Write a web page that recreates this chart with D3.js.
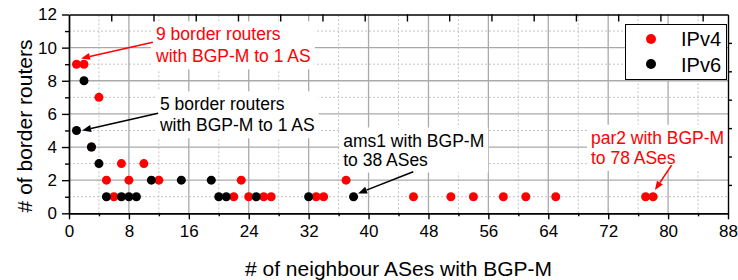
<!DOCTYPE html>
<html>
<head>
<meta charset="utf-8">
<title>BGP-M border routers</title>
<script src="https://cdn.jsdelivr.net/npm/d3@7"></script>
<style>
  body { margin: 0; background: #fff; }
  svg text { font-family: "Liberation Sans", Arial, sans-serif; }
</style>
</head>
<body>
<svg id="chart" width="738" height="280"></svg>
<script>
// values
var ipv4X = [1, 2, 4, 3, 5, 7, 8, 10, 12, 23, 37, 6, 22, 24, 26, 27, 33, 34, 46, 51, 54, 58, 61, 65, 77, 78];
var ipv4Y = [9, 9, 7, 4, 2, 3, 2, 3, 2, 2, 2, 1, 1, 1, 1, 1, 1, 1, 1, 1, 1, 1, 1, 1, 1, 1];
var ipv6X = [2, 1, 3, 4, 11, 15, 19, 5, 7, 8, 9, 20, 21, 25, 32, 38];
var ipv6Y = [8, 5, 4, 3, 2, 2, 2, 1, 1, 1, 1, 1, 1, 1, 1, 1];
var xTicks = [0, 8, 16, 24, 32, 40, 48, 56, 64, 72, 80, 88];
var yTicks = [0, 2, 4, 6, 8, 10, 12];
var seriesNames = ["IPv4", "IPv6"];

var annotations = [
  {lines: ["9 border routers", "with BGP-M to 1 AS"], color: "#ff0000", tx: 11.62, ty: 10.44, gap: 22,
   from: [11.2, 10.33], to: [1.6, 9.35]},
  {lines: ["5 border routers", "with BGP-M to 1 AS"], color: "#000000", tx: 12.15, ty: 6.22, gap: 21,
   from: [11.9, 6.04], to: [1.75, 5.0]},
  {lines: ["ams1 with BGP-M", "to 38 ASes"], color: "#000000", tx: 36.62, ty: 4.03, gap: 19,
   from: [45.97, 2.51], to: [38.6, 1.2]},
  {lines: ["par2 with BGP-M", "to 78 ASes"], color: "#ff0000", tx: 69.7, ty: 4.2, gap: 20,
   from: [80.47, 2.91], to: [78.24, 1.4]}
];

var svg = d3.select("#chart");
var W = 738, H = 280;
var m = {left: 69, right: 10, top: 14.5, bottom: 66.7};

var x = d3.scaleLinear().domain([0, 88]).range([m.left, W - m.right]);
var y = d3.scaleLinear().domain([0, 12]).range([H - m.bottom, m.top]);

var majorX = xTicks, minorX = d3.range(4, 88, 8);
var majorY = yTicks, minorY = d3.range(1, 12, 2);

// grid
var grid = svg.append("g");
grid.selectAll("line.mx").data(minorX).enter().append("line")
  .attr("x1", function (d) { return x(d); }).attr("x2", function (d) { return x(d); })
  .attr("y1", y(0)).attr("y2", y(12))
  .attr("stroke", "#c4c4c4").attr("stroke-dasharray", "2,2");
grid.selectAll("line.my").data(minorY).enter().append("line")
  .attr("y1", function (d) { return y(d); }).attr("y2", function (d) { return y(d); })
  .attr("x1", x(0)).attr("x2", x(88))
  .attr("stroke", "#c4c4c4").attr("stroke-dasharray", "2,2");
grid.selectAll("line.gx").data(majorX.slice(1, -1)).enter().append("line")
  .attr("x1", function (d) { return x(d); }).attr("x2", function (d) { return x(d); })
  .attr("y1", y(0)).attr("y2", y(12))
  .attr("stroke", "#aaaaaa").attr("stroke-width", 1.3);
grid.selectAll("line.gy").data(majorY.slice(1, -1)).enter().append("line")
  .attr("y1", function (d) { return y(d); }).attr("y2", function (d) { return y(d); })
  .attr("x1", x(0)).attr("x2", x(88))
  .attr("stroke", "#aaaaaa").attr("stroke-width", 1.3);

// annotation text boxes (white behind text, over grid)
var annG = svg.append("g");
annotations.forEach(function (a) {
  var g = annG.append("g");
  var t = g.append("text").attr("fill", a.color).attr("font-size", 17.5);
  a.lines.forEach(function (l, i) {
    t.append("tspan").attr("x", x(a.tx)).attr("y", y(a.ty) + i * a.gap).text(l);
  });
  var bb = t.node().getBBox();
  g.insert("rect", "text").attr("x", bb.x - 4).attr("y", bb.y - 3)
    .attr("width", bb.width + 8).attr("height", bb.height + 6).attr("fill", "#fff");
});

// axes
function styleAxis(g) {
  g.selectAll("path, line").attr("stroke", "#000").attr("stroke-width", 1.4);
  g.selectAll("text").attr("font-size", 17).attr("fill", "#000")
    .attr("font-family", "'Liberation Sans', Arial, sans-serif");
}
svg.append("g").attr("transform", "translate(0," + y(0) + ")")
  .call(d3.axisBottom(x).tickValues(minorX).tickSize(3).tickFormat("").tickSizeOuter(0))
  .call(styleAxis);
svg.append("g").attr("transform", "translate(0," + y(0) + ")")
  .call(d3.axisBottom(x).tickValues(majorX).tickSize(6).tickPadding(6).tickSizeOuter(0))
  .call(styleAxis);
svg.append("g").attr("transform", "translate(" + x(0) + ",0)")
  .call(d3.axisLeft(y).tickValues(minorY).tickSize(4).tickFormat("").tickSizeOuter(0))
  .call(styleAxis);
svg.append("g").attr("transform", "translate(" + x(0) + ",0)")
  .call(d3.axisLeft(y).tickValues(majorY).tickSize(7).tickPadding(5).tickSizeOuter(0))
  .call(styleAxis);

// top and right axes have their own odd tick spacing in the original
var xTop = d3.scaleLinear().domain([0, 15.6]).range([x(0), x(88)]);
var yRight = d3.scaleLinear().domain([0, 7]).range([y(0), y(12)]);
svg.append("g").attr("transform", "translate(0," + y(12) + ")")
  .call(d3.axisTop(xTop).tickValues(d3.range(1, 16)).tickSize(-7).tickFormat("").tickSizeOuter(0))
  .call(styleAxis);
svg.append("g").attr("transform", "translate(" + x(88) + ",0)")
  .call(d3.axisRight(yRight).tickValues(d3.range(1, 7)).tickSize(4).tickFormat("").tickSizeOuter(0))
  .call(styleAxis);

// axis titles
svg.append("text").attr("x", (x(0) + x(88)) / 2).attr("y", 276)
  .attr("text-anchor", "middle").attr("font-size", 21).text("# of neighbour ASes with BGP-M");
svg.append("text").attr("transform", "translate(32,126) rotate(-90)")
  .attr("text-anchor", "middle").attr("font-size", 21).text("# of border routers");

// points: IPv4 under IPv6
var r = 4.5;
svg.append("g").selectAll("circle").data(d3.zip(ipv4X, ipv4Y)).enter().append("circle")
  .attr("cx", function (d) { return x(d[0]); }).attr("cy", function (d) { return y(d[1]); })
  .attr("r", r).attr("fill", "#ff0000");
svg.append("g").selectAll("circle").data(d3.zip(ipv6X, ipv6Y)).enter().append("circle")
  .attr("cx", function (d) { return x(d[0]); }).attr("cy", function (d) { return y(d[1]); })
  .attr("r", r).attr("fill", "#000000");

// arrows
annotations.forEach(function (a) {
  var x1 = x(a.from[0]), y1 = y(a.from[1]), x2 = x(a.to[0]), y2 = y(a.to[1]);
  var ang = Math.atan2(y2 - y1, x2 - x1), hl = 9, hw = 3.5;
  var bx = x2 - hl * Math.cos(ang), by = y2 - hl * Math.sin(ang);
  svg.append("line").attr("x1", x1).attr("y1", y1).attr("x2", bx).attr("y2", by)
    .attr("stroke", a.color).attr("stroke-width", 1.6);
  var px = -Math.sin(ang) * hw, py = Math.cos(ang) * hw;
  svg.append("path")
    .attr("d", "M" + x2 + "," + y2 + "L" + (bx + px) + "," + (by + py) + "L" + (bx - px) + "," + (by - py) + "Z")
    .attr("fill", a.color);
});

// legend
var lg = svg.append("g");
lg.append("rect").attr("x", 625.5).attr("y", 24.5).attr("width", 101).attr("height", 55)
  .attr("fill", "#fff").attr("stroke", "#000").attr("stroke-width", 1);
var legendColors = ["#ff0000", "#000000"];
seriesNames.forEach(function (n, i) {
  lg.append("circle").attr("cx", 651).attr("cy", 39 + i * 25).attr("r", 5).attr("fill", legendColors[i]);
  lg.append("text").attr("x", 681).attr("y", 46 + i * 25.5).attr("font-size", 20).text(n);
});
</script>
</body>
</html>
